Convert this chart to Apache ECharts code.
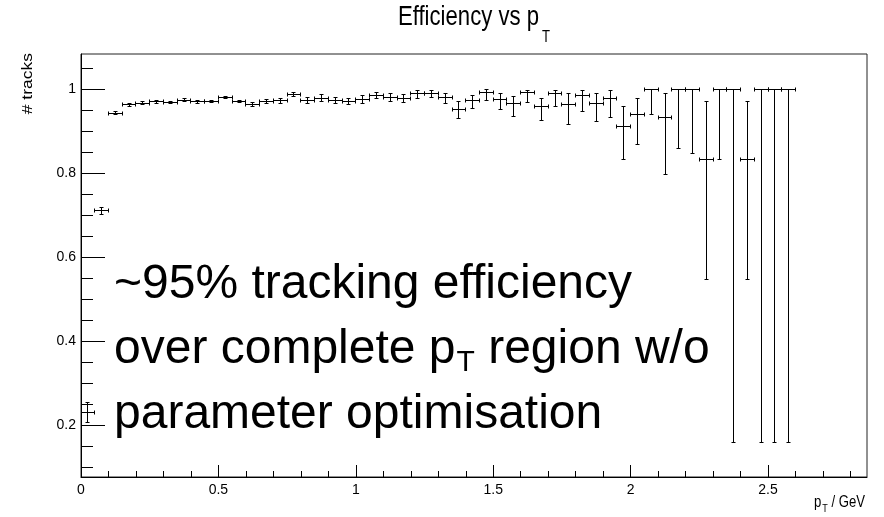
<!DOCTYPE html>
<html>
<head>
<meta charset="utf-8">
<script src="https://cdn.jsdelivr.net/npm/echarts@6/dist/echarts.min.js"></script>
<style>html,body{margin:0;padding:0;background:#fff;}#chart{width:884px;height:517px;}</style>
</head>
<body>
<div id="chart"></div>
<script>
// ---- data ----
const ptCenters = [0.025,0.075,0.125,0.175,0.225,0.275,0.325,0.375,0.425,0.475,0.525,0.575,0.625,0.675,0.725,0.775,0.825,0.875,0.925,0.975,1.025,1.075,1.125,1.175,1.225,1.275,1.325,1.375,1.425,1.475,1.525,1.575,1.625,1.675,1.725,1.775,1.825,1.875,1.925,1.975,2.025,2.075,2.125,2.175,2.225,2.275,2.325,2.375,2.425,2.475,2.525,2.575];
const efficiency = [0.230,0.711,0.943,0.963,0.967,0.970,0.969,0.974,0.970,0.971,0.980,0.971,0.964,0.970,0.973,0.988,0.973,0.979,0.973,0.971,0.975,0.986,0.981,0.978,0.990,0.990,0.981,0.953,0.974,0.993,0.976,0.966,0.992,0.959,0.989,0.963,0.985,0.967,0.979,0.912,0.941,1.000,0.934,1.000,1.000,0.834,1.000,1.000,0.834,1.000,1.000,1.000];
const errLow = [0.024,0.008,0.004,0.003,0.003,0.003,0.003,0.003,0.003,0.003,0.003,0.003,0.004,0.005,0.006,0.004,0.007,0.009,0.008,0.008,0.009,0.007,0.009,0.010,0.012,0.009,0.015,0.022,0.019,0.019,0.025,0.030,0.024,0.034,0.030,0.046,0.038,0.044,0.047,0.078,0.073,0.060,0.138,0.142,0.154,0.287,0.168,0.840,0.287,0.840,0.840,0.840];
const errHigh = [0.024,0.008,0.004,0.003,0.003,0.003,0.003,0.003,0.003,0.003,0.003,0.003,0.004,0.005,0.006,0.004,0.007,0.008,0.008,0.008,0.010,0.007,0.009,0.010,0.006,0.008,0.009,0.017,0.012,0.007,0.014,0.018,0.006,0.020,0.009,0.026,0.012,0.022,0.018,0.048,0.038,0.000,0.055,0.000,0.000,0.138,0.000,0.000,0.138,0.000,0.000,0.000];
const binHalfWidth = 0.025;
const xRange = [0, 2.86];
const yRange = [0.077, 1.084];
const xMajorTicks = [0, 0.5, 1, 1.5, 2, 2.5];
const xMinorTicks = [0.1,0.2,0.3,0.4,0.6,0.7,0.8,0.9,1.1,1.2,1.3,1.4,1.6,1.7,1.8,1.9,2.1,2.2,2.3,2.4,2.6,2.7,2.8];
const yMajorTicks = [0.2, 0.4, 0.6, 0.8, 1.0];
const yMinorTicks = [0.1,0.15,0.25,0.3,0.35,0.45,0.5,0.55,0.65,0.7,0.75,0.85,0.9,0.95,1.05];
const titleParts = ['Efficiency vs p', 'T'];
const xNameParts = ['p', 'T', ' / GeV'];
const yName = '# tracks';
const noteLines = [['~95% tracking efficiency'], ['over complete p', 'T', ' region w/o'], ['parameter optimisation']];

// ---- helpers ----
const ctx = document.createElement('canvas').getContext('2d');
const FAM = '"Liberation Sans", Arial, sans-serif';
function tw(text, size, fam) { ctx.font = size + 'px ' + fam; return ctx.measureText(text).width; }
function fontAvailable(name) {
  const s = 'abcdefghijklmWM0.5';
  ctx.font = '40px monospace'; const a = ctx.measureText(s).width;
  ctx.font = '40px "' + name + '", monospace'; const b = ctx.measureText(s).width;
  return a !== b;
}
const hasNarrow = fontAvailable('Liberation Sans Narrow');
const tickFont = hasNarrow ? { fontFamily: '"Liberation Sans Narrow"', fontSize: 17 } : { fontFamily: 'Liberation Sans', fontSize: 14 };

// parts: [text, size, dy, gapBefore]
function run(parts, x, y, sx, align) {
  const widths = parts.map(p => tw(p[0], p[1], FAM) * sx + (p[3] || 0));
  const total = widths.reduce((a, b) => a + b, 0);
  let cx = align === 'right' ? x - total : (align === 'center' ? x - total / 2 : x);
  return parts.map((p, i) => {
    const el = {
      type: 'text', x: cx + (p[3] || 0), y: y + p[2], scaleX: sx, z: 100,
      style: { text: p[0], font: p[1] + 'px ' + FAM, fill: '#000',
               textAlign: 'left', textVerticalAlign: 'middle', align: 'left', verticalAlign: 'middle' }
    };
    cx += widths[i];
    return el;
  });
}

const graphics = [];
// title
graphics.push(...run([[titleParts[0], 27, 0], [titleParts[1], 16, 20, 3]], 474, 18, 0.82, 'center'));
// x axis name
graphics.push(...run([[xNameParts[0], 16, 0], [xNameParts[1], 11, 6, 1], [xNameParts[2], 16, 0]], 865, 503, 0.82, 'right'));
// y axis name
graphics.push({
  type: 'text', x: 28, y: 53, rotation: Math.PI / 2, scaleY: 0.82, z: 100,
  style: { text: yName, font: '17.5px ' + FAM, fill: '#000', textAlign: 'right', textVerticalAlign: 'middle', align: 'right', verticalAlign: 'middle' }
});
// annotation
graphics.push(...run([[noteLines[0][0], 48, 0]], 114, 285, 1, 'left'));
graphics.push(...run([[noteLines[1][0], 48, 0], [noteLines[1][1], 30, 13, 1], [noteLines[1][2], 48, 0]], 114, 350, 1, 'left'));
graphics.push(...run([[noteLines[2][0], 48, 0]], 114, 415, 1, 'left'));

const seriesData = ptCenters.map((x, i) => [x, efficiency[i], errLow[i], errHigh[i]]);

const snap = v => Math.round(v - 0.5) + 0.5;
function renderItem(params, api) {
  const x = api.value(0), y = api.value(1), lo = api.value(2), hi = api.value(3);
  const c = api.coord([x, y]);
  const l = api.coord([x - binHalfWidth, y]);
  const r = api.coord([x + binHalfWidth, y]);
  const t = api.coord([x, y + hi]);
  const b = api.coord([x, y - lo]);
  const cx = snap(c[0]), cy = snap(c[1]);
  const ls = { stroke: '#000', lineWidth: 1 };
  const cap = 2;
  const children = [
    { type: 'line', shape: { x1: l[0], y1: cy, x2: r[0], y2: cy }, style: ls },
    { type: 'line', shape: { x1: snap(l[0]), y1: cy - cap, x2: snap(l[0]), y2: cy + cap }, style: ls },
    { type: 'line', shape: { x1: snap(r[0]), y1: cy - cap, x2: snap(r[0]), y2: cy + cap }, style: ls }
  ];
  if (hi > 0 || lo > 0) children.push({ type: 'line', shape: { x1: cx, y1: t[1], x2: cx, y2: b[1] }, style: ls });
  if (hi > 0) children.push({ type: 'line', shape: { x1: cx - cap, y1: snap(t[1]), x2: cx + cap, y2: snap(t[1]) }, style: ls });
  if (lo > 0) children.push({ type: 'line', shape: { x1: cx - cap, y1: snap(b[1]), x2: cx + cap, y2: snap(b[1]) }, style: ls });
  return { type: 'group', children };
}

const labelStyle = Object.assign({ color: '#000' }, tickFont);
const chart = echarts.init(document.getElementById('chart'), null, { renderer: 'canvas' });
chart.setOption({
  animation: false,
  backgroundColor: '#fff',
  grid: { left: 81, right: 17, top: 54, bottom: 40, show: true, borderColor: '#222', borderWidth: 1, backgroundColor: 'transparent' },
  xAxis: [
    { type: 'value', min: xRange[0], max: xRange[1], position: 'bottom',
      axisLine: { show: true, onZero: false, lineStyle: { color: '#000', width: 1 } },
      axisTick: { show: true, inside: true, length: 12, customValues: xMajorTicks, lineStyle: { color: '#000' } },
      axisLabel: Object.assign({ show: true, customValues: xMajorTicks, margin: 6 }, labelStyle),
      splitLine: { show: false } },
    { type: 'value', min: xRange[0], max: xRange[1], position: 'bottom', offset: 0,
      axisLine: { show: false },
      axisTick: { show: true, inside: true, length: 6, customValues: xMinorTicks, lineStyle: { color: '#000' } },
      axisLabel: { show: false }, splitLine: { show: false } }
  ],
  yAxis: [
    { type: 'value', min: yRange[0], max: yRange[1], position: 'left',
      axisLine: { show: true, onZero: false, lineStyle: { color: '#000', width: 1 } },
      axisTick: { show: true, inside: true, length: 24, customValues: yMajorTicks, lineStyle: { color: '#000' } },
      axisLabel: Object.assign({ show: true, customValues: yMajorTicks, margin: 5 }, labelStyle),
      splitLine: { show: false } },
    { type: 'value', min: yRange[0], max: yRange[1], position: 'left', offset: 0,
      axisLine: { show: false },
      axisTick: { show: true, inside: true, length: 12, customValues: yMinorTicks, lineStyle: { color: '#000' } },
      axisLabel: { show: false }, splitLine: { show: false } }
  ],
  series: [{
    type: 'custom', xAxisIndex: 0, yAxisIndex: 0, renderItem, data: seriesData,
    encode: { x: 0, y: 1 }, clip: true
  }],
  graphic: graphics
});
</script>
</body>
</html>
